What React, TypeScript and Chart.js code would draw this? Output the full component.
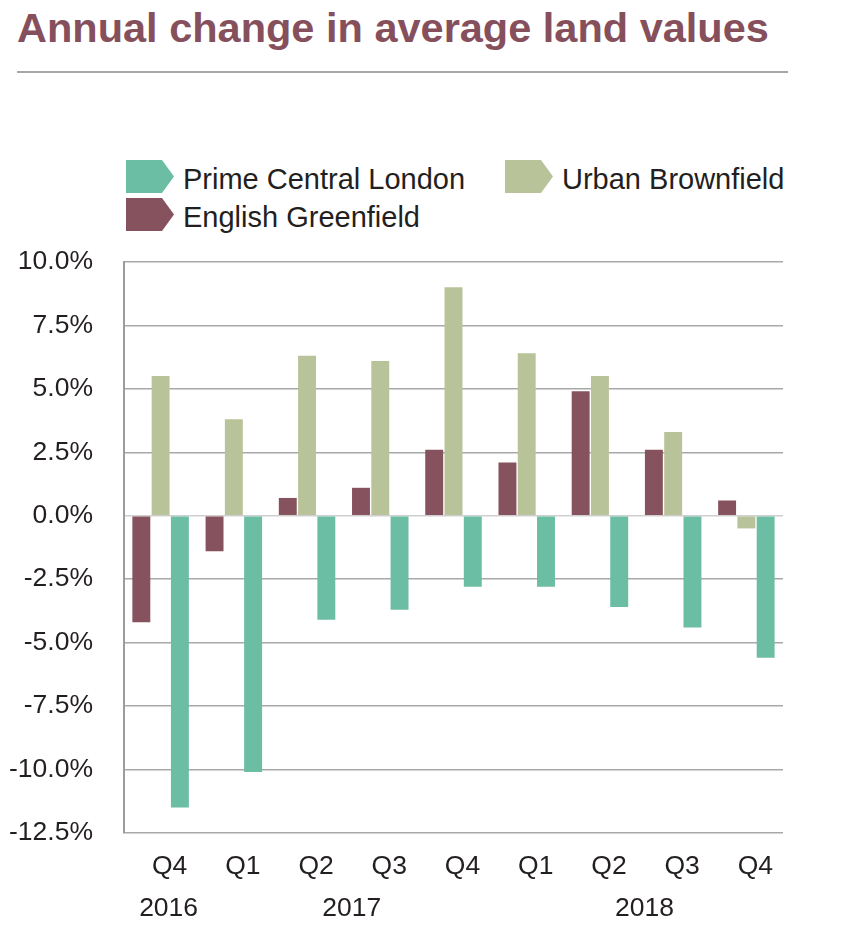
import React, { useEffect, useRef } from 'react';
import { Chart, registerables } from 'chart.js';

Chart.register(...registerables);

const quarters = ['Q4', 'Q1', 'Q2', 'Q3', 'Q4', 'Q1', 'Q2', 'Q3', 'Q4'];
const years = ['2016', '2017', '2017', '2017', '2017', '2018', '2018', '2018', '2018'];
const englishGreenfield = [-4.2, -1.4, 0.7, 1.1, 2.6, 2.1, 4.9, 2.6, 0.6];
const urbanBrownfield = [5.5, 3.8, 6.3, 6.1, 9.0, 6.4, 5.5, 3.3, -0.5];
const primeCentralLondon = [-11.5, -10.1, -4.1, -3.7, -2.8, -2.8, -3.6, -4.4, -5.6];
const yMin = -12.5;
const yMax = 10;
const yStep = 2.5;

const COLORS = {
  greenfield: '#86525d',
  brownfield: '#b9c399',
  pcl: '#6bbda3',
};
const TEXT = '#231f20';
const FONT = '"Liberation Sans", Arial, Helvetica, sans-serif';

// Year labels are placed on a half-quarter grid (2 slots per quarter) so each
// year sits centred under its own run of quarters.
type YearGroup = { label: string; first: number; last: number };
const yearGroups: YearGroup[] = [];
years.forEach((y, i) => {
  const g = yearGroups.find((g) => g.label === y);
  if (g) g.last = i;
  else yearGroups.push({ label: y, first: i, last: i });
});
const yearAxisLabels: string[] = new Array(quarters.length * 2 + 1).fill('');
yearGroups.forEach((g) => {
  yearAxisLabels[g.first + g.last + 1] = g.label;
});

const legendItems = [
  { label: 'Prime Central London', color: COLORS.pcl, left: 126, top: 160 },
  { label: 'Urban Brownfield', color: COLORS.brownfield, left: 505, top: 160 },
  { label: 'English Greenfield', color: COLORS.greenfield, left: 126, top: 198 },
];

export default function App() {
  const canvasRef = useRef<HTMLCanvasElement | null>(null);

  useEffect(() => {
    const canvas = canvasRef.current;
    if (!canvas) return;
    const tickFont = { family: FONT, size: 26.5 };
    const chart = new Chart(canvas, {
      type: 'bar',
      data: {
        labels: quarters,
        datasets: [
          { label: 'English Greenfield', data: englishGreenfield, backgroundColor: COLORS.greenfield },
          { label: 'Urban Brownfield', data: urbanBrownfield, backgroundColor: COLORS.brownfield },
          { label: 'Prime Central London', data: primeCentralLondon, backgroundColor: COLORS.pcl },
        ],
      },
      options: {
        animation: false,
        responsive: false,
        devicePixelRatio: 1,
        layout: { padding: { top: 21, right: 63, bottom: 29, left: 0 } },
        datasets: {
          bar: { categoryPercentage: 0.79, barPercentage: 0.93 },
        },
        plugins: {
          legend: { display: false },
          tooltip: { enabled: false },
          title: { display: false },
        },
        scales: {
          x: {
            type: 'category',
            position: 'bottom',
            weight: 0,
            grid: { display: false, drawTicks: false },
            border: { display: false },
            ticks: {
              font: tickFont,
              color: TEXT,
              padding: 18,
              labelOffset: 9,
              maxRotation: 0,
              autoSkip: false,
            },
            afterFit: (s: any) => {
              s.height = 50;
            },
          },
          xYear: {
            type: 'category',
            position: 'bottom',
            weight: 1,
            offset: false,
            labels: yearAxisLabels,
            grid: { display: false, drawTicks: false },
            border: { display: false },
            ticks: {
              font: tickFont,
              color: TEXT,
              padding: 10,
              labelOffset: 8,
              maxRotation: 0,
              autoSkip: false,
            },
            afterFit: (s: any) => {
              s.height = 40;
            },
          },
          y: {
            type: 'linear',
            position: 'left',
            min: yMin,
            max: yMax,
            grid: {
              drawTicks: false,
              color: (ctx: any) => (ctx.tick && ctx.tick.value === 0 ? '#cfcfcf' : '#a8a8a8'),
              lineWidth: 1.5,
            },
            border: { display: true, color: '#9c9c9c', width: 2 },
            ticks: {
              stepSize: yStep,
              font: tickFont,
              color: TEXT,
              padding: 31,
              callback: (v: any) => Number(v).toFixed(1) + '%',
            },
            afterFit: (s: any) => {
              s.width = 124;
            },
          },
        },
      } as any,
    });
    return () => chart.destroy();
  }, []);

  return (
    <div style={{ position: 'absolute', left: 0, top: 0, width: 846, height: 952, background: '#fff', fontFamily: FONT }}>
      <div
        style={{
          position: 'absolute',
          left: 17,
          top: 7,
          fontSize: 41.5,
          lineHeight: '42px',
          fontWeight: 700,
          color: '#864f5c',
          whiteSpace: 'nowrap',
        }}
      >
        Annual change in average land values
      </div>
      <div style={{ position: 'absolute', left: 17, top: 71, width: 771, height: 2, background: '#aaa6a6' }} />
      {legendItems.map((it) => (
        <div key={it.label} style={{ position: 'absolute', left: it.left, top: it.top, height: 33, display: 'flex', alignItems: 'center' }}>
          <div
            style={{
              width: 48,
              height: 33,
              background: it.color,
              clipPath: 'polygon(0 0, 75% 0, 100% 50%, 75% 100%, 0 100%)',
            }}
          />
          <div style={{ marginLeft: 9, fontSize: 29, lineHeight: '29px', color: TEXT, whiteSpace: 'nowrap', position: 'relative', top: 3 }}>
            {it.label}
          </div>
        </div>
      ))}
      <canvas
        ref={canvasRef}
        width={846}
        height={737}
        style={{ position: 'absolute', left: 0, top: 215, width: 846, height: 737, display: 'block' }}
      />
    </div>
  );
}
